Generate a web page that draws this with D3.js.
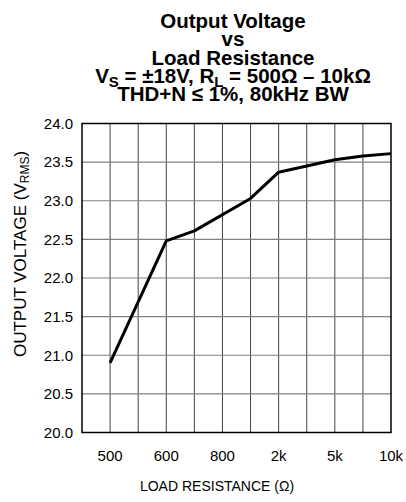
<!DOCTYPE html>
<html><head><meta charset="utf-8">
<script src="https://cdn.jsdelivr.net/npm/d3@7"></script>
<style>body{margin:0;background:#fff}svg{display:block}text{font-family:"Liberation Sans",Arial,sans-serif}</style>
</head><body>
<script>
// x grid positions (11 columns); labels sit on odd grid lines
const xTickLabels = ["500", "600", "800", "2k", "5k", "10k"];
const xTickIndex = [1, 3, 5, 7, 9, 11];
// curve breakpoints (grid index, Vrms)
const curveIndex = [1, 3, 4, 6, 7, 8, 9, 10, 11];
const curveVolts = [20.9, 22.48, 22.61, 23.03, 23.37, 23.45, 23.53, 23.58, 23.61];
const yTicks = [20.0, 20.5, 21.0, 21.5, 22.0, 22.5, 23.0, 23.5, 24.0];

const W = 406, H = 502;
const L = 82, R = 391, T = 123.5, B = 432.5;
const svg = d3.select("body").append("svg").attr("width", W).attr("height", H);

const x = d3.scaleLinear().domain([0, 11]).range([L, R]);
const y = d3.scaleLinear().domain([20, 24]).range([B, T]);

// vertical gridlines
svg.append("g").selectAll("line").data(d3.range(1, 11)).join("line")
  .attr("x1", d => x(d)).attr("x2", d => x(d)).attr("y1", T).attr("y2", B)
  .attr("stroke", "#444").attr("stroke-width", 1);
// horizontal gridlines
svg.append("g").selectAll("line").data(yTicks.slice(1, -1)).join("line")
  .attr("x1", L).attr("x2", R).attr("y1", d => y(d)).attr("y2", d => y(d))
  .attr("stroke", "#808080").attr("stroke-width", 1.2);

// frame
svg.append("rect").attr("x", L).attr("y", T).attr("width", R - L).attr("height", B - T)
  .attr("fill", "none").attr("stroke", "#000").attr("stroke-width", 1.5);

// y labels
svg.append("g").selectAll("text").data(yTicks).join("text")
  .attr("x", L - 9).attr("y", d => y(d)).attr("dy", "0.35em")
  .attr("text-anchor", "end").attr("font-size", 15).attr("fill", "#000")
  .text(d => d.toFixed(1));

// x labels
svg.append("g").selectAll("text").data(xTickLabels).join("text")
  .attr("x", (d, i) => x(xTickIndex[i])).attr("y", 461)
  .attr("text-anchor", "middle").attr("font-size", 15).attr("fill", "#000")
  .text(d => d);

// curve
const pts = curveIndex.map((c, i) => [c, curveVolts[i]]);
svg.append("path").datum(pts)
  .attr("d", d3.line().x(d => x(d[0])).y(d => y(d[1])))
  .attr("fill", "none").attr("stroke", "#000").attr("stroke-width", 3).attr("stroke-linejoin", "round");

// titles
const tg = svg.append("g").attr("font-weight", "bold").attr("font-size", 20.5).attr("text-anchor", "middle");
const cx = 233;
tg.append("text").attr("x", cx).attr("y", 28).text("Output Voltage");
tg.append("text").attr("x", cx).attr("y", 46).text("vs");
tg.append("text").attr("x", cx).attr("y", 65).text("Load Resistance");
const t4 = tg.append("text").attr("x", cx).attr("y", 83);
t4.append("tspan").text("V");
t4.append("tspan").attr("font-size", 15).attr("dy", 4).text("S");
t4.append("tspan").attr("dy", -4).text(" = ±18V, R");
t4.append("tspan").attr("font-size", 15).attr("dy", 4).text("L");
t4.append("tspan").attr("dy", -4).text(" = 500Ω – 10kΩ");
tg.append("text").attr("x", cx).attr("y", 101).text("THD+N ≤ 1%, 80kHz BW");

// axis titles
svg.append("text").attr("x", 217).attr("y", 491).attr("text-anchor", "middle")
  .attr("font-size", 14).text("LOAD RESISTANCE (Ω)");
const yt = svg.append("text").attr("transform", "translate(26,254) rotate(-90)")
  .attr("text-anchor", "middle").attr("font-size", 17);
yt.append("tspan").text("OUTPUT VOLTAGE (V");
yt.append("tspan").attr("font-size", 12).attr("dy", 3).text("RMS");
yt.append("tspan").attr("dy", -3).text(")");
</script>
</body></html>
